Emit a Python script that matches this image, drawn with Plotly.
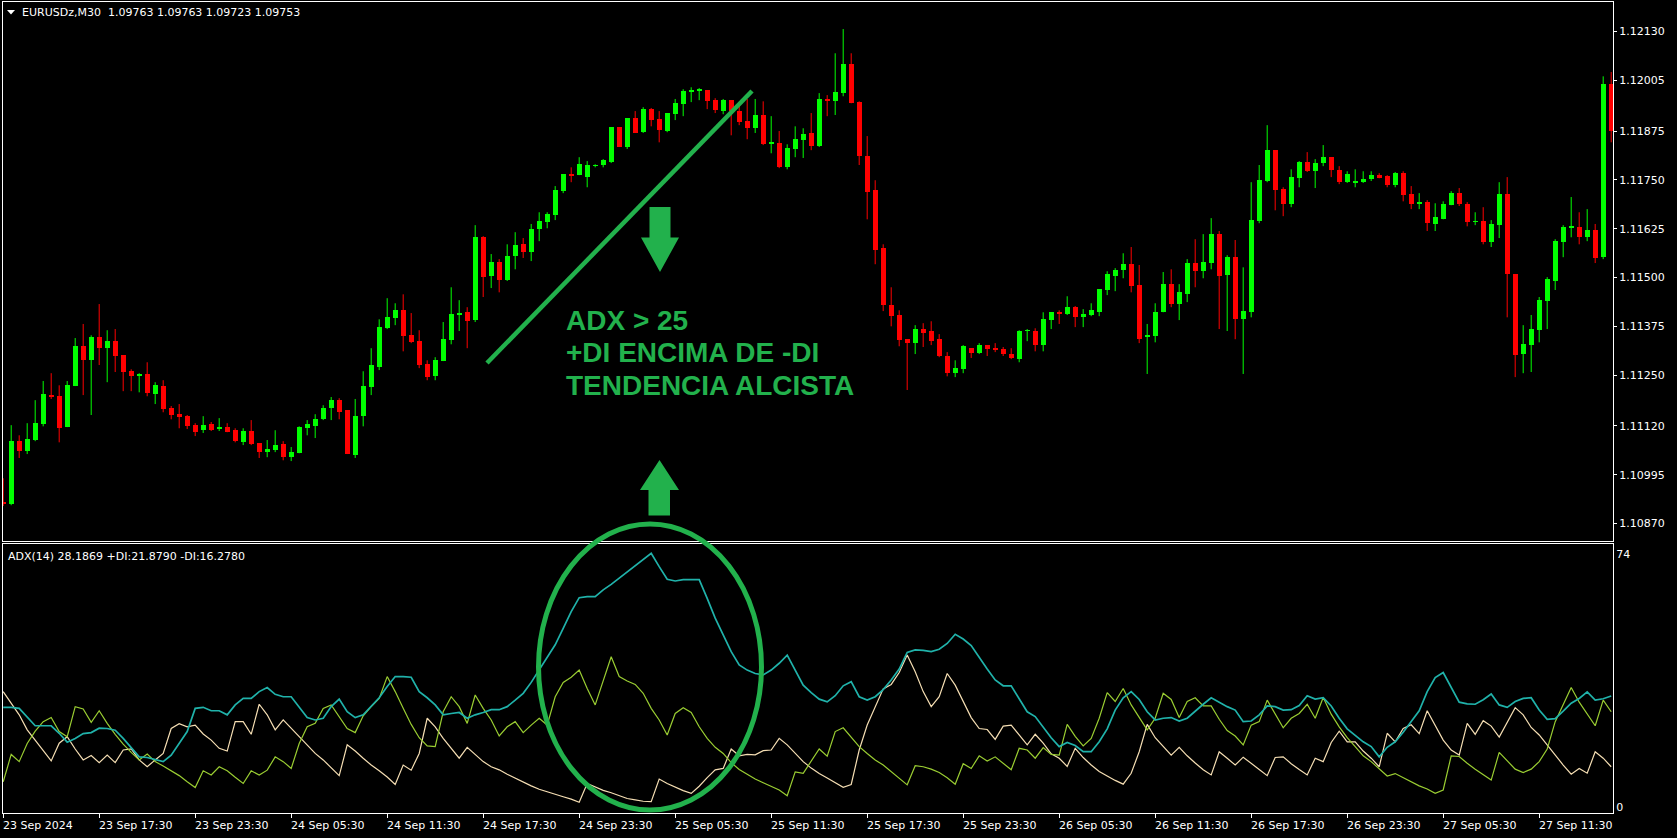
import plotly.graph_objects as go

# ---------------- figure geometry ----------------
W, H = 1677, 838
ML, MR, MT, MB = 3, 64, 2, 25

# ---------------- data ----------------
tick_bars = [0, 12, 24, 36, 48, 60, 72, 84, 96, 108, 120, 132, 144, 156, 168, 180, 192]
tick_text = ["23 Sep 2024", "23 Sep 17:30", "23 Sep 23:30", "24 Sep 05:30", "24 Sep 11:30",
             "24 Sep 17:30", "24 Sep 23:30", "25 Sep 05:30", "25 Sep 11:30", "25 Sep 17:30",
             "25 Sep 23:30", "26 Sep 05:30", "26 Sep 11:30", "26 Sep 17:30", "26 Sep 23:30",
             "27 Sep 05:30", "27 Sep 11:30"]
price_ticks = [1.12130, 1.12005, 1.11875, 1.11750, 1.11625, 1.11500, 1.11375, 1.11250,
               1.11120, 1.10995, 1.10870]

open_ = [1.10925, 1.10920, 1.11081, 1.11055, 1.11084, 1.11125, 1.11199, 1.11196, 1.11117, 1.11222,
         1.11324, 1.11288, 1.11347, 1.11319, 1.11337, 1.11301, 1.11260, 1.11247, 1.11253, 1.11201,
         1.11222, 1.11166, 1.11150, 1.11145, 1.11122, 1.11109, 1.11125, 1.11112, 1.11117, 1.11109,
         1.11078, 1.11107, 1.11076, 1.11053, 1.11058, 1.11073, 1.11040, 1.11050, 1.11114, 1.11119,
         1.11137, 1.11166, 1.11186, 1.11160, 1.11045, 1.11145, 1.11219, 1.11270, 1.11370, 1.11396,
         1.11416, 1.11352, 1.11337, 1.11278, 1.11247, 1.11286, 1.11340, 1.11404, 1.11411, 1.11391,
         1.11603, 1.11503, 1.11539, 1.11493, 1.11555, 1.11585, 1.11565, 1.11624, 1.11642, 1.11660,
         1.11721, 1.11765, 1.11762, 1.11757, 1.11785, 1.11788, 1.11795, 1.11885, 1.11834, 1.11908,
         1.11872, 1.11931, 1.11905, 1.11875, 1.11918, 1.11944, 1.11974, 1.11977, 1.11980, 1.11954,
         1.11926, 1.11954, 1.11926, 1.11900, 1.11882, 1.11916, 1.11841, 1.11844, 1.11782, 1.11829,
         1.11852, 1.11870, 1.11836, 1.11957, 1.11951, 1.11972, 1.12046, 1.11949, 1.11811, 1.11724,
         1.11575, 1.11429, 1.11404, 1.11342, 1.11332, 1.11368, 1.11363, 1.11342, 1.11299, 1.11255,
         1.11265, 1.11319, 1.11306, 1.11327, 1.11319, 1.11317, 1.11304, 1.11291, 1.11363, 1.11363,
         1.11327, 1.11391, 1.11411, 1.11406, 1.11424, 1.11398, 1.11404, 1.11411, 1.11468, 1.11503,
         1.11519, 1.11534, 1.11480, 1.11347, 1.11350, 1.11411, 1.11483, 1.11432, 1.11457, 1.11537,
         1.11516, 1.11537, 1.11611, 1.11506, 1.11552, 1.11393, 1.11411, 1.11644, 1.11747, 1.11826,
         1.11726, 1.11688, 1.11754, 1.11795, 1.11772, 1.11793, 1.11808, 1.11775, 1.11744, 1.11742,
         1.11744, 1.11752, 1.11762, 1.11759, 1.11736, 1.11767, 1.11713, 1.11688, 1.11693, 1.11637,
         1.11649, 1.11685, 1.11716, 1.11688, 1.11642, 1.11644, 1.11590, 1.11634, 1.11713, 1.11509,
         1.11304, 1.11327, 1.11365, 1.11439, 1.11491, 1.11590, 1.11626, 1.11629, 1.11603, 1.11621,
         1.11552, 1.11995]
high = [1.10986, 1.11122, 1.11096, 1.11127, 1.11186, 1.11235, 1.11255, 1.11224, 1.11235, 1.11345,
        1.11381, 1.11352, 1.11432, 1.11365, 1.11368, 1.11301, 1.11265, 1.11255, 1.11283, 1.11232,
        1.11237, 1.11171, 1.11176, 1.11148, 1.11127, 1.11145, 1.11130, 1.11140, 1.11127, 1.11114,
        1.11114, 1.11135, 1.11076, 1.11084, 1.11109, 1.11081, 1.11066, 1.11119, 1.11135, 1.11150,
        1.11173, 1.11194, 1.11191, 1.11160, 1.11189, 1.11260, 1.11319, 1.11393, 1.11447, 1.11434,
        1.11457, 1.11409, 1.11365, 1.11288, 1.11296, 1.11386, 1.11475, 1.11442, 1.11424, 1.11634,
        1.11606, 1.11560, 1.11547, 1.11585, 1.11616, 1.11601, 1.11637, 1.11667, 1.11667, 1.11734,
        1.11765, 1.11782, 1.11808, 1.11798, 1.11790, 1.11803, 1.11885, 1.11885, 1.11908, 1.11926,
        1.11936, 1.11934, 1.11926, 1.11921, 1.11957, 1.11982, 1.11987, 1.11985, 1.11980, 1.11959,
        1.11957, 1.11954, 1.11939, 1.11957, 1.11957, 1.11951, 1.11913, 1.11875, 1.11841, 1.11887,
        1.11882, 1.11921, 1.11972, 1.11967, 1.12074, 1.12136, 1.12074, 1.11951, 1.11862, 1.11749,
        1.11585, 1.11475, 1.11416, 1.11342, 1.11378, 1.11383, 1.11388, 1.11355, 1.11309, 1.11288,
        1.11327, 1.11319, 1.11332, 1.11327, 1.11332, 1.11322, 1.11319, 1.11365, 1.11368, 1.11370,
        1.11411, 1.11411, 1.11416, 1.11452, 1.11427, 1.11419, 1.11434, 1.11470, 1.11516, 1.11524,
        1.11562, 1.11578, 1.11532, 1.11381, 1.11434, 1.11514, 1.11521, 1.11483, 1.11547, 1.11598,
        1.11611, 1.11652, 1.11619, 1.11557, 1.11596, 1.11526, 1.11744, 1.11788, 1.11890, 1.11826,
        1.11731, 1.11777, 1.11798, 1.11821, 1.11803, 1.11839, 1.11808, 1.11785, 1.11772, 1.11777,
        1.11772, 1.11772, 1.11767, 1.11762, 1.11770, 1.11772, 1.11734, 1.11716, 1.11698, 1.11690,
        1.11695, 1.11721, 1.11729, 1.11693, 1.11667, 1.11680, 1.11647, 1.11744, 1.11757, 1.11509,
        1.11378, 1.11404, 1.11450, 1.11501, 1.11598, 1.11634, 1.11706, 1.11667, 1.11675, 1.11637,
        1.12015, 1.12026]
low = [1.10915, 1.10917, 1.11038, 1.11048, 1.11081, 1.11119, 1.11189, 1.11078, 1.11117, 1.11222,
       1.11199, 1.11148, 1.11276, 1.11232, 1.11258, 1.11209, 1.11209, 1.11206, 1.11196, 1.11176,
       1.11155, 1.11137, 1.11114, 1.11112, 1.11094, 1.11102, 1.11107, 1.11107, 1.11104, 1.11078,
       1.11071, 1.11071, 1.11038, 1.11040, 1.11053, 1.11032, 1.11030, 1.11050, 1.11096, 1.11089,
       1.11135, 1.11135, 1.11137, 1.11048, 1.11038, 1.11119, 1.11199, 1.11263, 1.11368, 1.11378,
       1.11311, 1.11332, 1.11268, 1.11237, 1.11237, 1.11286, 1.11329, 1.11363, 1.11319, 1.11386,
       1.11450, 1.11473, 1.11462, 1.11491, 1.11521, 1.11550, 1.11542, 1.11593, 1.11626, 1.11647,
       1.11716, 1.11744, 1.11762, 1.11731, 1.11782, 1.11782, 1.11793, 1.11834, 1.11829, 1.11870,
       1.11870, 1.11887, 1.11846, 1.11872, 1.11903, 1.11913, 1.11949, 1.11954, 1.11931, 1.11921,
       1.11918, 1.11864, 1.11890, 1.11854, 1.11870, 1.11839, 1.11818, 1.11780, 1.11777, 1.11808,
       1.11806, 1.11826, 1.11834, 1.11913, 1.11916, 1.11964, 1.11946, 1.11788, 1.11649, 1.11534,
       1.11414, 1.11375, 1.11324, 1.11212, 1.11304, 1.11322, 1.11327, 1.11296, 1.11247, 1.11245,
       1.11255, 1.11294, 1.11304, 1.11299, 1.11309, 1.11299, 1.11291, 1.11283, 1.11337, 1.11311,
       1.11311, 1.11368, 1.11381, 1.11404, 1.11373, 1.11373, 1.11401, 1.11401, 1.11455, 1.11465,
       1.11498, 1.11462, 1.11332, 1.11253, 1.11334, 1.11411, 1.11424, 1.11391, 1.11437, 1.11475,
       1.11498, 1.11521, 1.11368, 1.11363, 1.11342, 1.11253, 1.11398, 1.11639, 1.11744, 1.11672,
       1.11657, 1.11680, 1.11731, 1.11770, 1.11729, 1.11785, 1.11757, 1.11739, 1.11742, 1.11731,
       1.11742, 1.11747, 1.11754, 1.11731, 1.11731, 1.11695, 1.11675, 1.11675, 1.11619, 1.11619,
       1.11649, 1.11685, 1.11683, 1.11631, 1.11634, 1.11585, 1.11578, 1.11601, 1.11398, 1.11245,
       1.11255, 1.11258, 1.11334, 1.11368, 1.11468, 1.11552, 1.11603, 1.11585, 1.11593, 1.11537,
       1.11547, 1.11846]
close = [1.10920, 1.11081, 1.11055, 1.11086, 1.11127, 1.11201, 1.11194, 1.11114, 1.11224, 1.11324,
         1.11288, 1.11347, 1.11319, 1.11337, 1.11299, 1.11258, 1.11247, 1.11253, 1.11204, 1.11224,
         1.11163, 1.11148, 1.11142, 1.11119, 1.11104, 1.11122, 1.11109, 1.11117, 1.11104, 1.11081,
         1.11107, 1.11073, 1.11053, 1.11061, 1.11071, 1.11040, 1.11053, 1.11117, 1.11125, 1.11137,
         1.11166, 1.11186, 1.11155, 1.11048, 1.11145, 1.11222, 1.11276, 1.11373, 1.11398, 1.11416,
         1.11350, 1.11334, 1.11276, 1.11245, 1.11288, 1.11342, 1.11406, 1.11409, 1.11388, 1.11603,
         1.11501, 1.11539, 1.11493, 1.11555, 1.11583, 1.11565, 1.11624, 1.11644, 1.11662, 1.11724,
         1.11765, 1.11759, 1.11790, 1.11788, 1.11788, 1.11800, 1.11885, 1.11834, 1.11908, 1.11870,
         1.11931, 1.11903, 1.11877, 1.11921, 1.11946, 1.11977, 1.11980, 1.11982, 1.11951, 1.11928,
         1.11954, 1.11926, 1.11898, 1.11882, 1.11916, 1.11841, 1.11846, 1.11782, 1.11831, 1.11854,
         1.11867, 1.11836, 1.11957, 1.11951, 1.11974, 1.12046, 1.11946, 1.11811, 1.11718, 1.11570,
         1.11429, 1.11401, 1.11340, 1.11332, 1.11368, 1.11358, 1.11337, 1.11299, 1.11255, 1.11268,
         1.11324, 1.11306, 1.11327, 1.11317, 1.11314, 1.11304, 1.11294, 1.11363, 1.11365, 1.11327,
         1.11393, 1.11411, 1.11406, 1.11424, 1.11398, 1.11406, 1.11416, 1.11470, 1.11509, 1.11519,
         1.11534, 1.11478, 1.11342, 1.11352, 1.11411, 1.11483, 1.11432, 1.11462, 1.11537, 1.11516,
         1.11539, 1.11611, 1.11503, 1.11552, 1.11393, 1.11414, 1.11647, 1.11749, 1.11826, 1.11724,
         1.11688, 1.11757, 1.11795, 1.11772, 1.11793, 1.11808, 1.11775, 1.11744, 1.11765, 1.11747,
         1.11752, 1.11762, 1.11754, 1.11736, 1.11767, 1.11711, 1.11688, 1.11693, 1.11639, 1.11654,
         1.11688, 1.11716, 1.11688, 1.11642, 1.11644, 1.11590, 1.11637, 1.11713, 1.11509, 1.11301,
         1.11329, 1.11368, 1.11442, 1.11496, 1.11593, 1.11629, 1.11631, 1.11603, 1.11621, 1.11550,
         1.11995, 1.11875]

adx = [29.1, 29.1, 28.8, 26.4, 23.7, 23.7, 23.7, 21.5, 18.9, 20.0,
       21.4, 21.7, 23.0, 22.9, 22.4, 20.0, 17.3, 14.6, 14.4, 13.7,
       13.2, 15.1, 18.6, 22.0, 28.8, 29.1, 28.1, 28.1, 26.9, 29.8,
       31.7, 31.7, 33.7, 34.9, 32.9, 32.2, 32.2, 29.0, 26.1, 25.4,
       25.9, 29.3, 31.5, 27.8, 26.1, 26.9, 29.3, 31.9, 35.2, 38.1,
       38.1, 37.9, 33.7, 31.9, 29.8, 26.9, 27.3, 27.6, 25.9, 26.9,
       27.6, 28.4, 28.4, 29.3, 31.2, 33.2, 36.4, 40.0, 43.4, 47.4,
       52.2, 57.1, 61.2, 61.5, 61.5, 63.5, 65.1, 66.9, 68.8, 70.5,
       72.2, 74.2, 70.3, 66.6, 66.1, 66.5, 66.5, 66.5, 61.0, 55.2,
       50.3, 45.4, 41.5, 40.0, 39.0, 38.6, 40.0, 42.0, 44.4, 40.0,
       35.6, 33.4, 31.5, 30.7, 32.5, 35.4, 36.6, 32.2, 31.2, 32.2,
       34.3, 37.1, 40.3, 45.2, 45.9, 45.8, 45.4, 46.1, 47.8, 50.5,
       49.1, 47.2, 43.6, 40.3, 37.1, 35.4, 35.4, 31.7, 27.8, 26.4,
       23.2, 20.2, 17.6, 18.8, 17.9, 16.1, 16.1, 19.0, 22.8, 28.3,
       31.9, 33.7, 31.4, 27.8, 25.4, 25.9, 26.1, 25.1, 25.9, 28.0,
       30.0, 31.9, 30.6, 29.3, 28.3, 24.9, 25.1, 26.9, 29.5, 29.3,
       28.3, 28.4, 29.6, 32.5, 31.5, 31.9, 29.5, 25.9, 22.8, 21.0,
       19.0, 17.6, 14.6, 17.4, 19.0, 21.8, 24.9, 28.1, 33.7, 37.8,
       39.3, 34.9, 30.6, 30.1, 30.0, 31.3, 33.0, 29.8, 29.1, 30.8,
       31.7, 31.9, 28.3, 25.6, 25.8, 28.0, 30.3, 31.7, 33.6, 31.2,
       31.6, 32.4]
plus_di = [7.3, 15.3, 13.2, 18.5, 22.1, 24.9, 26.1, 22.0, 20.5, 29.3,
           28.6, 24.7, 28.1, 24.4, 21.2, 18.3, 15.9, 13.7, 15.4, 13.2,
           11.9, 10.6, 9.1, 7.3, 5.6, 10.5, 9.3, 11.7, 10.5, 8.6,
           6.8, 10.5, 9.3, 10.7, 14.6, 13.2, 11.2, 18.5, 23.4, 24.4,
           28.8, 29.8, 26.4, 22.9, 21.7, 26.6, 29.3, 31.7, 38.1, 33.7,
           28.8, 24.1, 20.2, 17.8, 17.6, 27.8, 32.2, 29.3, 24.4, 32.7,
           28.8, 25.4, 20.7, 23.4, 24.9, 21.7, 23.9, 25.9, 23.9, 32.2,
           36.4, 37.9, 40.0, 34.6, 29.8, 37.1, 43.9, 38.1, 36.8, 35.8,
           33.2, 28.8, 25.4, 21.0, 27.3, 29.0, 27.6, 23.4, 20.0, 17.4,
           15.6, 12.9, 10.9, 9.5, 8.1, 7.0, 5.9, 4.9, 3.2, 10.2,
           9.8, 13.2, 16.9, 14.8, 22.0, 23.1, 20.3, 17.6, 15.6, 13.7,
           12.2, 10.3, 8.3, 6.4, 12.0, 11.7, 11.0, 10.0, 8.5, 6.6,
           12.6, 11.2, 14.9, 13.4, 14.6, 12.7, 10.8, 17.1, 16.6, 14.2,
           17.3, 15.3, 15.1, 24.1, 20.6, 17.8, 20.0, 25.9, 33.4, 30.8,
           34.6, 29.8, 26.1, 22.5, 25.9, 33.2, 31.4, 26.1, 30.8, 31.9,
           29.5, 29.5, 25.6, 22.3, 20.7, 18.1, 23.9, 24.9, 31.2, 27.3,
           23.1, 25.9, 27.3, 30.0, 25.9, 32.0, 27.1, 23.4, 20.2, 17.6,
           14.9, 13.2, 11.0, 9.0, 9.7, 8.5, 7.2, 6.1, 5.2, 3.9,
           4.9, 14.9, 14.7, 12.7, 11.0, 9.3, 7.8, 15.9, 13.6, 11.0,
           10.0, 11.0, 13.2, 16.9, 24.9, 30.0, 34.9, 30.6, 27.3, 23.7,
           31.2, 27.8]
minus_di = [33.7, 30.1, 26.9, 22.5, 19.5, 16.4, 13.4, 18.6, 20.5, 16.9,
            13.7, 15.0, 12.9, 15.1, 12.9, 16.6, 16.9, 13.7, 11.7, 13.7,
            15.6, 22.9, 24.3, 23.4, 23.9, 21.3, 19.5, 17.1, 16.3, 24.9,
            24.9, 21.2, 30.0, 26.9, 22.5, 25.4, 22.9, 20.5, 18.1, 15.6,
            13.7, 11.5, 9.1, 18.1, 16.3, 14.2, 12.2, 10.5, 8.7, 6.5,
            12.2, 10.7, 15.6, 25.9, 23.4, 20.0, 17.1, 14.2, 17.4, 15.3,
            13.2, 11.7, 10.8, 9.5, 8.3, 7.3, 6.1, 5.1, 4.3, 3.5,
            2.9, 2.2, 1.3, 6.8, 5.8, 4.8, 4.1, 3.3, 2.4, 2.0,
            1.6, 1.5, 8.1, 6.8, 5.7, 4.7, 3.9, 6.0, 8.5, 10.8,
            11.2, 16.9, 14.9, 15.3, 15.2, 16.4, 16.6, 20.0, 18.1, 15.6,
            13.2, 11.3, 9.7, 8.4, 7.0, 5.7, 6.5, 16.6, 23.9, 29.4,
            34.5, 35.8, 39.3, 44.4, 39.5, 33.7, 29.3, 32.2, 39.0, 35.6,
            30.8, 26.1, 22.9, 22.6, 19.7, 23.6, 23.9, 21.0, 18.1, 21.2,
            18.6, 15.5, 14.2, 11.8, 17.1, 14.4, 12.2, 10.3, 8.9, 7.7,
            6.6, 9.8, 16.1, 24.1, 20.2, 17.7, 15.1, 17.4, 14.9, 12.8,
            10.8, 9.3, 16.1, 14.2, 12.2, 14.5, 12.8, 10.9, 9.1, 14.4,
            14.6, 12.6, 10.9, 9.3, 14.2, 13.2, 18.8, 22.1, 19.0, 19.0,
            16.3, 14.2, 11.7, 21.5, 19.0, 22.9, 24.0, 21.4, 28.1, 23.9,
            19.5, 16.6, 15.1, 24.4, 21.2, 25.2, 23.6, 20.4, 24.7, 29.0,
            26.9, 23.2, 21.0, 18.1, 14.9, 12.2, 9.5, 11.2, 9.8, 16.1,
            14.2, 11.7]

bar_index = list(range(len(open_)))

# ---------------- styles ----------------
BULL = "#00FF00"
BEAR = "#FF0000"
ADX_C = "#20B2AA"
PDI_C = "#9ACD32"
MDI_C = "#F5DEB3"
NOTE_C = "#22B14C"
FONT = "DejaVu Sans"

# pixel helpers (decorations only)
PW = W - ML - MR
PH = H - MT - MB


def px(x):
    return (x - ML) / PW


def py(y):
    return (H - MB - y) / PH


main_dom = [py(541), 1.0]
ind_dom = [0.0, py(544)]
x_range = [(ML - 3.2) / 8.0, (W - MR - 3.2) / 8.0]
main_range = [1.122104 - 0.0000256 * 541, 1.122104 - 0.0000256 * 2]
ind_range = [(806.7 - 813) / 3.415, (806.7 - 544) / 3.415]

fig = go.Figure()

# wicks
for is_bull, col in ((True, BULL), (False, BEAR)):
    wx, wy = [], []
    for i, o, h, l, c in zip(bar_index, open_, high, low, close):
        if (c >= o) == is_bull:
            wx += [i, i, None]
            wy += [l, h, None]
    fig.add_trace(go.Scatter(x=wx, y=wy, mode="lines", line=dict(color=col, width=1),
                             hoverinfo="skip", showlegend=False, xaxis="x", yaxis="y"))

# bodies
MIN_BODY = 0.00003
for is_bull, col in ((True, BULL), (False, BEAR)):
    bx, bb, bh = [], [], []
    for i, o, c in zip(bar_index, open_, close):
        if (c >= o) == is_bull:
            bx.append(i)
            bb.append(min(o, c))
            bh.append(max(abs(c - o), MIN_BODY))
    fig.add_trace(go.Bar(x=bx, y=bh, base=bb, width=0.625, marker=dict(color=col, line=dict(width=0)),
                         hoverinfo="skip", showlegend=False, xaxis="x", yaxis="y"))

# indicator
fig.add_trace(go.Scatter(x=bar_index, y=minus_di, mode="lines", line=dict(color=MDI_C, width=1.2),
                         hoverinfo="skip", showlegend=False, xaxis="x2", yaxis="y2"))
fig.add_trace(go.Scatter(x=bar_index, y=plus_di, mode="lines", line=dict(color=PDI_C, width=1.2),
                         hoverinfo="skip", showlegend=False, xaxis="x2", yaxis="y2"))
fig.add_trace(go.Scatter(x=bar_index, y=adx, mode="lines", line=dict(color=ADX_C, width=1.7),
                         hoverinfo="skip", showlegend=False, xaxis="x2", yaxis="y2"))

axis_common = dict(showgrid=False, zeroline=False, showline=True, linecolor="white", linewidth=1,
                   mirror=True)
tickfont = dict(family=FONT, size=11, color="white")

fig.update_layout(
    width=W, height=H,
    margin=dict(l=ML, r=MR, t=MT, b=MB, pad=0),
    paper_bgcolor="black", plot_bgcolor="black",
    hovermode=False, showlegend=False, barmode="overlay", bargap=0,
    xaxis=dict(domain=[0, 1], anchor="y", range=x_range, showticklabels=False, ticks="",
               **axis_common),
    yaxis=dict(domain=main_dom, anchor="x", side="right", range=main_range,
               tickvals=price_ticks, ticktext=["%.5f" % v for v in price_ticks],
               ticks="outside", ticklen=3, tickcolor="white", tickfont=tickfont, **axis_common),
    xaxis2=dict(domain=[0, 1], anchor="y2", matches="x", range=x_range, tickvals=tick_bars,
                ticks="outside", ticklen=4, tickcolor="white", showticklabels=False, **axis_common),
    yaxis2=dict(domain=ind_dom, anchor="x2", side="right", range=ind_range,
                tickvals=[0, 74], ticktext=["0", "74"], ticks="", tickfont=tickfont,
                **axis_common),
)

# x tick labels (left-aligned at the tick, MT4 style)
for b, t in zip(tick_bars, tick_text):
    fig.add_annotation(x=b, y=py(825), xref="x2", yref="paper", text=t, showarrow=False,
                       xanchor="left", yanchor="middle", xshift=-2, font=tickfont)

# header labels
fig.add_annotation(x=px(20), y=py(12.5), xref="paper", yref="paper",
                   text="EURUSDz,M30  1.09763 1.09763 1.09723 1.09753", showarrow=False,
                   xanchor="left", yanchor="middle", font=tickfont)
fig.add_annotation(x=px(6), y=py(556.5), xref="paper", yref="paper",
                   text="ADX(14) 28.1869 +DI:21.8790 -DI:16.2780", showarrow=False,
                   xanchor="left", yanchor="middle", font=tickfont)

# small white triangle of the header
fig.add_shape(type="path", xref="paper", yref="paper", line=dict(width=0), fillcolor="white",
              path="M %f %f L %f %f L %f %f Z" % (px(7), py(10), px(15), py(10), px(11), py(14.5)))

# annotation drawings
fig.add_shape(type="line", xref="paper", yref="paper", x0=px(487), y0=py(363), x1=px(752),
              y1=py(91), line=dict(color=NOTE_C, width=4.5), layer="above")


def arrow_path(pts):
    s = "M %f %f " % (px(pts[0][0]), py(pts[0][1]))
    for x, y in pts[1:]:
        s += "L %f %f " % (px(x), py(y))
    return s + "Z"


down_pts = [(649.5, 207), (670.5, 207), (670.5, 237.5), (679, 237.5), (660, 272),
            (641, 237.5), (649.5, 237.5)]
up_pts = [(648.5, 515.5), (670, 515.5), (670, 490), (679, 490), (659.5, 460),
          (640, 490), (648.5, 490)]
for pts in (down_pts, up_pts):
    fig.add_shape(type="path", xref="paper", yref="paper", path=arrow_path(pts),
                  fillcolor=NOTE_C, line=dict(width=0), layer="above")

fig.add_shape(type="circle", xref="paper", yref="paper", x0=px(538.5), x1=px(761.5),
              y0=py(810), y1=py(524), line=dict(color=NOTE_C, width=5), layer="above")

note_lines = ["ADX > 25", "+DI ENCIMA DE -DI", "TENDENCIA ALCISTA"]
for k, t in enumerate(note_lines):
    fig.add_annotation(x=px(564), y=py(320.5 + 32.5 * k), xref="paper", yref="paper", text="<b>%s</b>" % t,
                       showarrow=False, xanchor="left", yanchor="middle",
                       font=dict(family="Liberation Sans, Arial", size=28, color=NOTE_C))

fig.write_html("out.html", config=dict(displayModeBar=False, staticPlot=True),
               post_script="document.body.style.margin='0px';document.body.style.overflow='hidden';")
